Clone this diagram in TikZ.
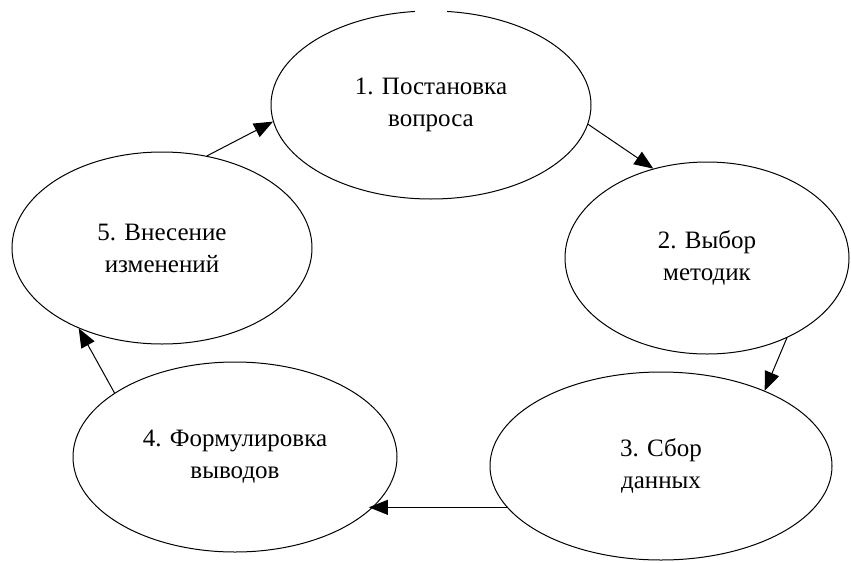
\documentclass[tikz,border=0pt]{standalone}
\usepackage{fontspec}
\setmainfont{Liberation Serif}
\newfontfamily\stagefont{Liberation Serif}
\usetikzlibrary{shapes.geometric,arrows.meta}
\begin{document}
\begin{tikzpicture}[x=1pt,y=-1pt,
  stage/.style={draw=black,line width=1pt,ellipse,inner sep=0pt,align=center,
    font=\stagefont\fontsize{25}{32}\selectfont},
  arr/.style={draw=black,line width=1pt,-{Triangle[length=19pt,width=15pt]}}]
\useasboundingbox (0,0) rectangle (851,562);
\node[stage,minimum width=320pt,minimum height=188pt] (e1) at (431,105) {1. Постановка\\вопроса};
\node[stage,minimum width=284pt,minimum height=192pt] (e2) at (707,258) {2. Выбор\\методик};
\node[stage,minimum width=342pt,minimum height=188pt] (e3) at (661,466) {3. Сбор\\данных};
\node[stage,minimum width=324pt,minimum height=190pt] (e4) at (235,457) {4. Формулировка\\выводов};
\node[stage,minimum width=300pt,minimum height=192pt] (e5) at (162,248) {5. Внесение\\изменений};
\fill[white] (415,4) rectangle (447,18);
\draw[arr] (e5.64.7) -- (e1.186.7);
\draw[arr] (e1.-7.3) -- (e2.121.2);
\draw[arr] (e2.-45) -- (e3.36.6);
\draw[arr] (e3.195.75) -- (e4.-22.2 |- e3.195.75);
\draw[arr] (e4.152) -- (e5.224.3);
\end{tikzpicture}
\end{document}
